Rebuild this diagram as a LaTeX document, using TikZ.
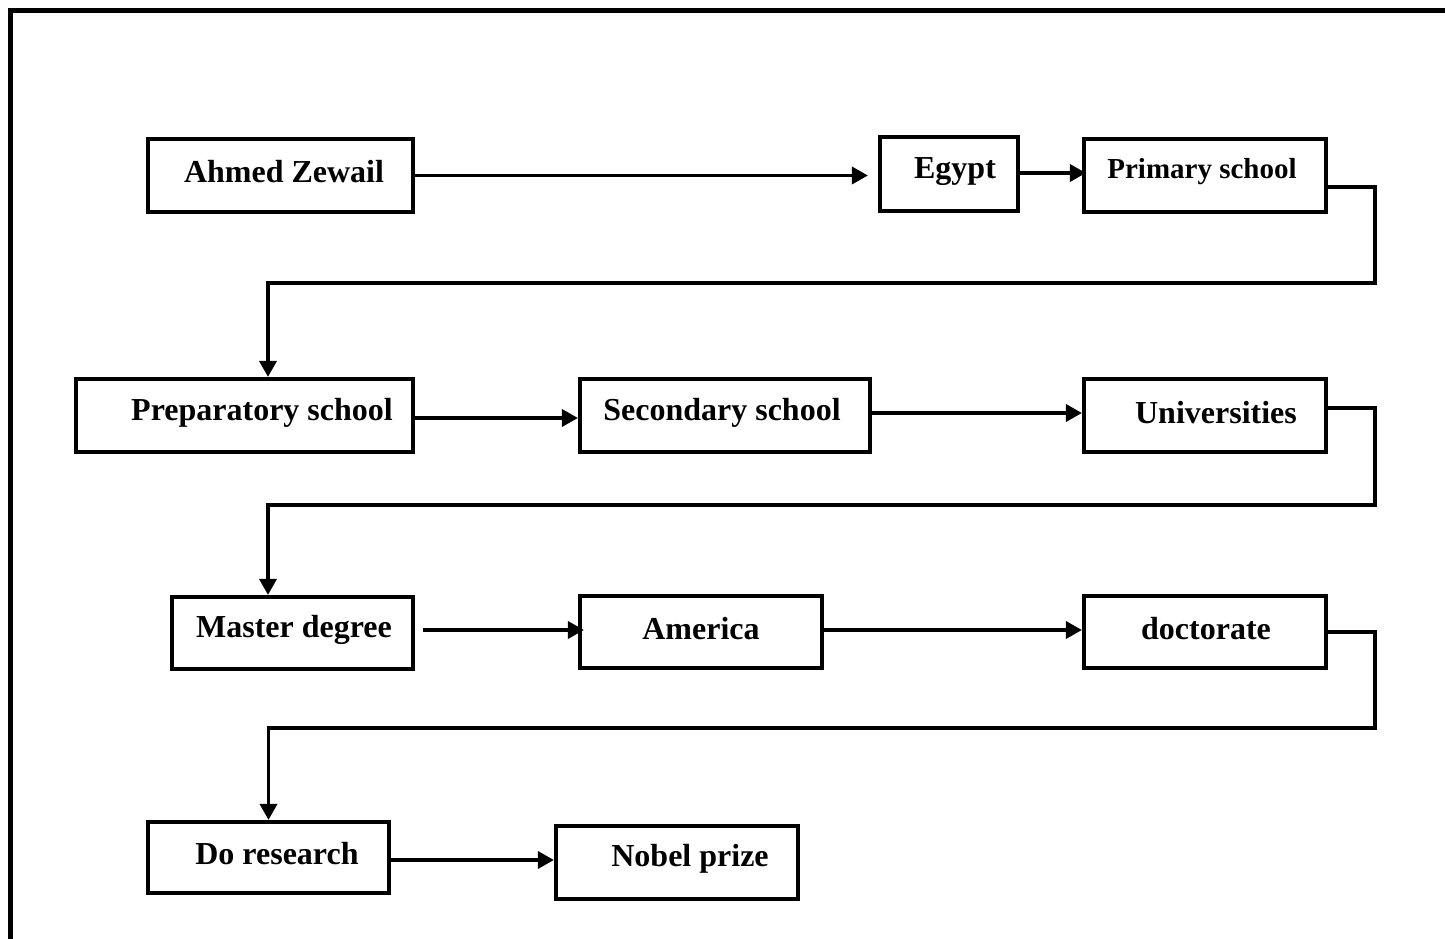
\documentclass[tikz,border=0pt]{standalone}
\usepackage{fontspec}
\setmainfont{Liberation Serif}
\usetikzlibrary{arrows.meta}
\begin{document}
\begin{tikzpicture}[x=1pt,y=-1pt,
  box/.style={draw, line width=4.2pt, rectangle, inner sep=0pt},
  lbl/.style={inner sep=0pt, font=\fontsize{32}{38}\selectfont\bfseries},
  small/.style={inner sep=0pt, font=\fontsize{29}{34}\selectfont\bfseries},
  arr/.style={line width=3.6pt, -{Triangle[length=16pt,width=17pt]}},
  elbow/.style={arr}]
\useasboundingbox (0,0) rectangle (1445,939);
\begin{scope}
\clip (0,0) rectangle (1445,939);
% outer frame, only its top and left edges fall on the page
\draw[line width=4.2pt] (10.5,10.5) rectangle (1470,970);
\end{scope}

% boxes
\node[box, minimum width=265pt, minimum height=73pt] (zew) at (280.5,175.5) {};
\node[box, minimum width=138pt, minimum height=74pt] (egy) at (949,174) {};
\node[box, minimum width=242pt, minimum height=73pt] (pri) at (1205,175.5) {};
\node[box, minimum width=337pt, minimum height=73pt] (pre) at (244.5,415.5) {};
\node[box, minimum width=290pt, minimum height=73pt] (sec) at (725,415.5) {};
\node[box, minimum width=242pt, minimum height=73pt] (uni) at (1205,415.5) {};
\node[box, minimum width=241pt, minimum height=72pt] (mas) at (292.5,633) {};
\node[box, minimum width=242pt, minimum height=72pt] (ame) at (701,632) {};
\node[box, minimum width=242pt, minimum height=72pt] (doc) at (1205,632) {};
\node[box, minimum width=241pt, minimum height=71pt] (res) at (268.5,857.5) {};
\node[box, minimum width=242pt, minimum height=73pt] (nob) at (677,862.5) {};

% labels
\node[lbl] (tzew) at (284,172) {Ahmed Zewail};
\node[lbl] (tegy) at (955,172) {Egypt};
\node[small] (tpri) at (1202,172) {Primary school};
\node[lbl] (tpre) at (262,413) {Preparatory school};
\node[lbl] (tsec) at (722,413) {Secondary school};
\node[lbl] (tuni) at (1216,413) {Universities};
\node[lbl] (tmas) at (294,630) {Master degree};
\node[lbl] (tame) at (701,629) {America};
\node[lbl] (tdoc) at (1206,629) {doctorate};
\node[lbl] (tres) at (277,854) {Do research};
\node[lbl] (tnob) at (690,859) {Nobel prize};

% first row
\draw[arr, shorten >=10pt] (zew.east) -- (zew.east -| egy.west);
\draw[arr, shorten >=-4pt] ([yshift=1pt]egy.east) -- ([yshift=1pt]egy.east -| pri.west);
\draw[elbow] ([yshift=-11.5pt]pri.east) -| ++(47,96) -| ([xshift=23.5pt]pre.north);

% second row
\draw[arr] ([yshift=-2.5pt]pre.east) -- ([yshift=-2.5pt]pre.east -| sec.west);
\draw[arr] ([yshift=2.5pt]sec.east) -- ([yshift=2.5pt]sec.east -| uni.west);
\draw[elbow] ([yshift=7.5pt]uni.east) -| ++(47,97) -| ([xshift=-24.5pt]mas.north);

% third row
\draw[arr, shorten <=8pt, shorten >=-6pt] ([yshift=3pt]mas.east) -- ([yshift=3pt]mas.east -| ame.west);
\draw[arr] ([yshift=2pt]ame.east) -- ([yshift=2pt]ame.east -| doc.west);
\draw[elbow] (doc.east) -| ++(47,96) -| (res.north);

% last row
\draw[arr] ([yshift=-2.5pt]res.east) -- ([yshift=-2.5pt]res.east -| nob.west);
\end{tikzpicture}
\end{document}
